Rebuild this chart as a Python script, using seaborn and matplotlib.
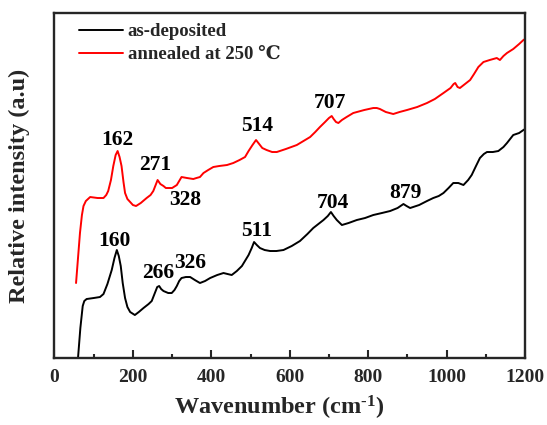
import numpy as np
import pandas as pd
import matplotlib
matplotlib.use("Agg")
import matplotlib.pyplot as plt
import seaborn as sns

# Raman spectra: wavenumber (cm^-1) and relative intensity (arbitrary units)
wn_asdep = [60, 66, 72, 76, 82, 100, 116, 125, 135, 146, 153, 159, 164, 169,
            174, 180, 186, 193, 205, 215, 227, 240, 248, 256, 262, 267, 272,
            278, 290, 299, 306, 312, 318, 324, 335, 346, 358, 371, 384, 397,
            415, 431, 452, 465, 478, 495, 503, 509, 516, 524, 536, 550, 566,
            584, 605, 626, 645, 660, 673, 686, 697, 705, 712, 720, 733, 750,
            771, 792, 813, 835, 856, 875, 890, 898, 907, 930, 950, 966, 980,
            992, 1005, 1017, 1030, 1043, 1055, 1064, 1075, 1085, 1095, 1103,
            1118, 1132, 1145, 1154, 1162, 1170, 1185, 1196, 1200]
int_asdep = [0, 30, 52, 57, 59, 60, 61, 64, 74, 88, 100, 108, 102, 92,
             75, 60, 51, 46, 43, 46, 50, 54, 57, 65, 71, 72, 69,
             67, 65, 65, 68, 72, 77, 80, 81, 81, 78, 75, 77, 80,
             83, 85, 83, 87, 92, 103, 110, 116, 113, 110, 108, 107, 107,
             108, 112, 117, 124, 130, 134, 138, 142, 146, 142, 138, 133, 135,
             138, 140, 143, 145, 147, 150, 154, 152, 150, 153, 157, 160, 162,
             165, 170, 175, 175, 173, 178, 183, 192, 200, 204, 206,
             206, 207, 211, 215, 219, 223, 225, 228, 229]

wn_anneal = [55, 60, 65, 70, 74, 80, 91, 110, 125, 132, 137, 144, 150, 156,
             161, 166, 171, 176, 180, 186, 193, 200, 208, 220, 235, 245, 252,
             258, 263, 270, 278, 284, 290, 300, 312, 318, 324, 338, 354, 362,
             371, 380, 392, 405, 420, 440, 456, 472, 486, 495, 505, 514, 522,
             530, 541, 555, 567, 590, 618, 635, 652, 665, 677, 690, 700, 707,
             712, 718, 724, 733, 745, 762, 790, 813, 822, 830, 845, 864, 880,
             899, 925, 950, 970, 992, 1010, 1018, 1022, 1028, 1034, 1047, 1060,
             1070, 1081, 1094, 1110, 1128, 1136, 1145, 1154, 1170, 1185, 1196,
             1200]
int_anneal = [75, 100, 125, 143, 152, 157, 161, 160, 160, 163, 167, 178, 192,
              203, 207, 201, 192, 176, 165, 159, 156, 153, 152, 155, 160, 163,
              167, 173, 178, 174, 172, 170, 170, 170, 173, 177, 181, 180, 179,
              180, 181, 185, 188, 191, 192, 193, 195, 198, 201, 207, 213, 218,
              214, 210, 208, 206, 206, 209, 213, 217, 221, 226, 231, 236, 240,
              242, 239, 236, 235, 238, 241, 245, 248, 250, 250, 249, 246, 244,
              246, 248, 251, 255, 259, 265, 270, 274, 275, 271, 270, 274, 278,
              284, 291, 296, 298, 300, 298, 302, 305, 309, 314, 318, 319]

series_names = ["as-deposited", "annealed at 250 \u2103"]
series_colors = ["black", "red"]

# Peak labels: (text, x, y) for each spectrum
peak_text = ["162", "271", "328", "514", "707",
             "160", "266", "326", "511", "704", "879"]
peak_x = [159, 256, 333, 516, 703, 154, 265, 346, 516, 711, 894]
peak_y = [218, 193, 158, 232, 255, 117, 85, 95, 127, 155, 165]

df = pd.concat([
    pd.DataFrame({"wavenumber": wn_asdep, "intensity": int_asdep,
                  "sample": series_names[0]}),
    pd.DataFrame({"wavenumber": wn_anneal, "intensity": int_anneal,
                  "sample": series_names[1]}),
])

sns.set_style("ticks")
plt.rcParams["font.family"] = ["Liberation Serif", "DejaVu Serif"]
plt.rcParams["font.weight"] = "bold"
plt.rcParams["mathtext.fontset"] = "custom"
plt.rcParams["mathtext.rm"] = "Liberation Serif:bold"
plt.rcParams["mathtext.bf"] = "Liberation Serif:bold"
plt.rcParams["mathtext.default"] = "rm"

fig = plt.figure(figsize=(5.47, 4.25), dpi=100)
ax = fig.add_axes([0.0996, 0.1576, 0.8602, 0.8118])

sns.lineplot(data=df, x="wavenumber", y="intensity", hue="sample",
             palette=series_colors, hue_order=series_names, sort=False,
             estimator=None, linewidth=1.4, ax=ax)

ax.set_xlim(0, 1200)
ax.set_ylim(0, 345)
ax.set_xticks(np.arange(0, 1201, 200))
ax.set_xticks(np.arange(100, 1200, 200), minor=True)
ax.set_yticks([])
ax.tick_params(axis="x", which="major", direction="in", length=6, width=1.5,
               labelsize=14, pad=8, top=False)
ax.tick_params(axis="x", which="minor", direction="in", length=3, width=1.5,
               top=False)
for lab in ax.get_xticklabels():
    lab.set_fontweight("bold")
for sp in ax.spines.values():
    sp.set_visible(True)
    sp.set_linewidth(1.7)

ax.set_xlabel("Wavenumber (cm$^{\\text{-}1}$)", fontsize=17.5,
              fontweight="bold")
ax.xaxis.set_label_coords(0.477, -0.105)
ax.set_ylabel("Relative intensity (a.u)", fontsize=17.5, fontweight="bold")
ax.yaxis.set_label_coords(-0.053, 0.5)

for t, x, y in zip(peak_text, peak_x, peak_y):
    ax.text(x, y, t, ha="center", va="center", fontsize=15.5,
            fontweight="bold", color="black")

leg = ax.legend(loc="upper left", frameon=False, fontsize=13.5,
                handlelength=2.35, handletextpad=0.25, labelspacing=0.3,
                borderaxespad=0.15, bbox_to_anchor=(0.03, 1.0))
for txt in leg.get_texts():
    txt.set_fontweight("bold")

fig.savefig("out.png", dpi=100)
